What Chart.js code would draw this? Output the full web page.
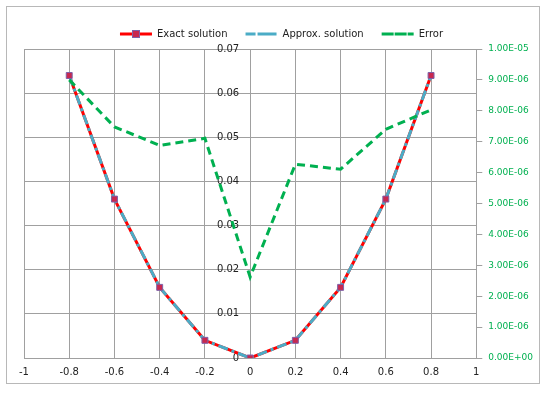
<!DOCTYPE html>
<html>
<head>
<meta charset="utf-8">
<script src="https://cdn.jsdelivr.net/npm/chart.js@4.4.1/dist/chart.umd.min.js"></script>
<style>
    html, body { margin: 0; padding: 0; background: #fff; }
    #wrap { position: relative; width: 550px; height: 394px; }
    #frame { position: absolute; left: 6px; top: 6px; width: 532px; height: 376px; border: 1px solid #b8b8b8; }
    canvas { position: absolute; left: 0; top: 0; }
</style>
</head>
<body>
<div id="wrap">
    <div id="frame"></div>
    <canvas id="solutionChart" width="550" height="394"></canvas>
</div>
<script>
// Data
const xValues = [-0.8, -0.6, -0.4, -0.2, 0, 0.2, 0.4, 0.6, 0.8];
const exactValues = [0.064, 0.036, 0.016, 0.004, 0, 0.004, 0.016, 0.036, 0.064];
const approxValues = [0.064, 0.036, 0.016, 0.004, 0, 0.004, 0.016, 0.036, 0.064];
const errorValues = [9.0e-6, 7.48e-6, 6.88e-6, 7.11e-6, 2.62e-6, 6.27e-6, 6.11e-6, 7.4e-6, 8.03e-6];

// Tick labels
const xTickLabels = ["-1", "-0.8", "-0.6", "-0.4", "-0.2", "0", "0.2", "0.4", "0.6", "0.8", "1"];
const leftTickLabels = ["0", "0.01", "0.02", "0.03", "0.04", "0.05", "0.06", "0.07"];
const rightTickLabels = [
    "0.00E+00", "1.00E-06", "2.00E-06", "3.00E-06", "4.00E-06", "5.00E-06",
    "6.00E-06", "7.00E-06", "8.00E-06", "9.00E-06", "1.00E-05",
];

const toPoints = (ys) => xValues.map((x, i) => ({ x: x, y: ys[i] }));

const gridGray = "#a0a0a0";
const labelFont = { family: "DejaVu Sans", size: 10 };
const legendBoxWidth = 32;

// Square marker on the "Exact solution" legend entry
const legendMarker = {
    id: "legendMarker",
    afterDraw(chart) {
        const box = chart.legend.legendHitBoxes[0];
        if (!box) return;
        const ctx = chart.ctx;
        const cx = Math.round(box.left + legendBoxWidth / 2);
        const cy = Math.round(box.top + 10 / 2);
        ctx.save();
        ctx.fillStyle = "#c8284f";
        ctx.strokeStyle = "#7f60a8";
        ctx.lineWidth = 1;
        ctx.fillRect(cx - 3, cy - 3, 6, 6);
        ctx.strokeRect(cx - 3.5, cy - 3.5, 7, 7);
        ctx.restore();
    },
};

const ctx = document.getElementById("solutionChart").getContext("2d");
new Chart(ctx, {
    type: "line",
    data: {
        datasets: [
            {
                label: "Exact solution",
                data: toPoints(exactValues),
                borderColor: "#ff0000",
                backgroundColor: "#ff0000",
                borderWidth: 3,
                pointRadius: 0,
                tension: 0,
                yAxisID: "y",
                order: 3,
            },
            {
                label: "Approx. solution",
                data: toPoints(approxValues),
                borderColor: "#4bacc6",
                backgroundColor: "#4bacc6",
                borderWidth: 3,
                borderDash: [10, 4, 3, 4],
                pointRadius: 0,
                tension: 0,
                yAxisID: "y",
                order: 2,
            },
            {
                label: "Error",
                data: toPoints(errorValues),
                borderColor: "#00b050",
                backgroundColor: "#00b050",
                borderWidth: 3,
                borderDash: [8, 5],
                pointRadius: 0,
                tension: 0,
                yAxisID: "y1",
                order: 0,
            },
            {
                label: "markers",
                data: toPoints(exactValues),
                showLine: false,
                pointStyle: "rect",
                pointRadius: 4.2,
                pointBackgroundColor: "#c8284f",
                pointBorderColor: "#7f60a8",
                pointBorderWidth: 1,
                yAxisID: "y",
                order: 1,
            },
        ],
    },
    options: {
        responsive: false,
        animation: false,
        devicePixelRatio: 1,
        layout: {
            padding: { left: 24, right: 11, top: 11, bottom: 8 },
        },
        plugins: {
            legend: {
                display: true,
                position: "top",
                labels: {
                    filter: (item) => item.datasetIndex !== 3,
                    sort: (a, b) => a.datasetIndex - b.datasetIndex,
                    boxWidth: legendBoxWidth,
                    boxHeight: 0,
                    padding: 18,
                    color: "#222",
                    font: labelFont,
                },
            },
            tooltip: { enabled: false },
        },
        scales: {
            x: {
                type: "linear",
                min: -1,
                max: 1,
                ticks: {
                    stepSize: 0.2,
                    color: "#222",
                    font: labelFont,
                    padding: 8,
                    callback: (value, index) => xTickLabels[index],
                },
                grid: { color: gridGray, lineWidth: 1, drawTicks: false },
                border: { color: gridGray },
            },
            y: {
                // x runs from -1 to 1, so the centre of the plot is x = 0
                position: "center",
                min: 0,
                max: 0.07,
                ticks: {
                    stepSize: 0.01,
                    color: "#222",
                    font: labelFont,
                    padding: 11,
                    callback: (value, index) => leftTickLabels[index],
                },
                grid: { color: gridGray, lineWidth: 1, drawTicks: false },
                border: { color: gridGray },
            },
            y1: {
                position: "right",
                min: 0,
                max: 1e-5,
                ticks: {
                    stepSize: 1e-6,
                    color: "#00b050",
                    font: { family: "DejaVu Sans", size: 9 },
                    padding: 6,
                    callback: (value, index) => rightTickLabels[index],
                },
                grid: { drawOnChartArea: false, color: gridGray, tickLength: 6 },
                border: { color: gridGray },
            },
        },
    },
    plugins: [legendMarker],
});
</script>
</body>
</html>
